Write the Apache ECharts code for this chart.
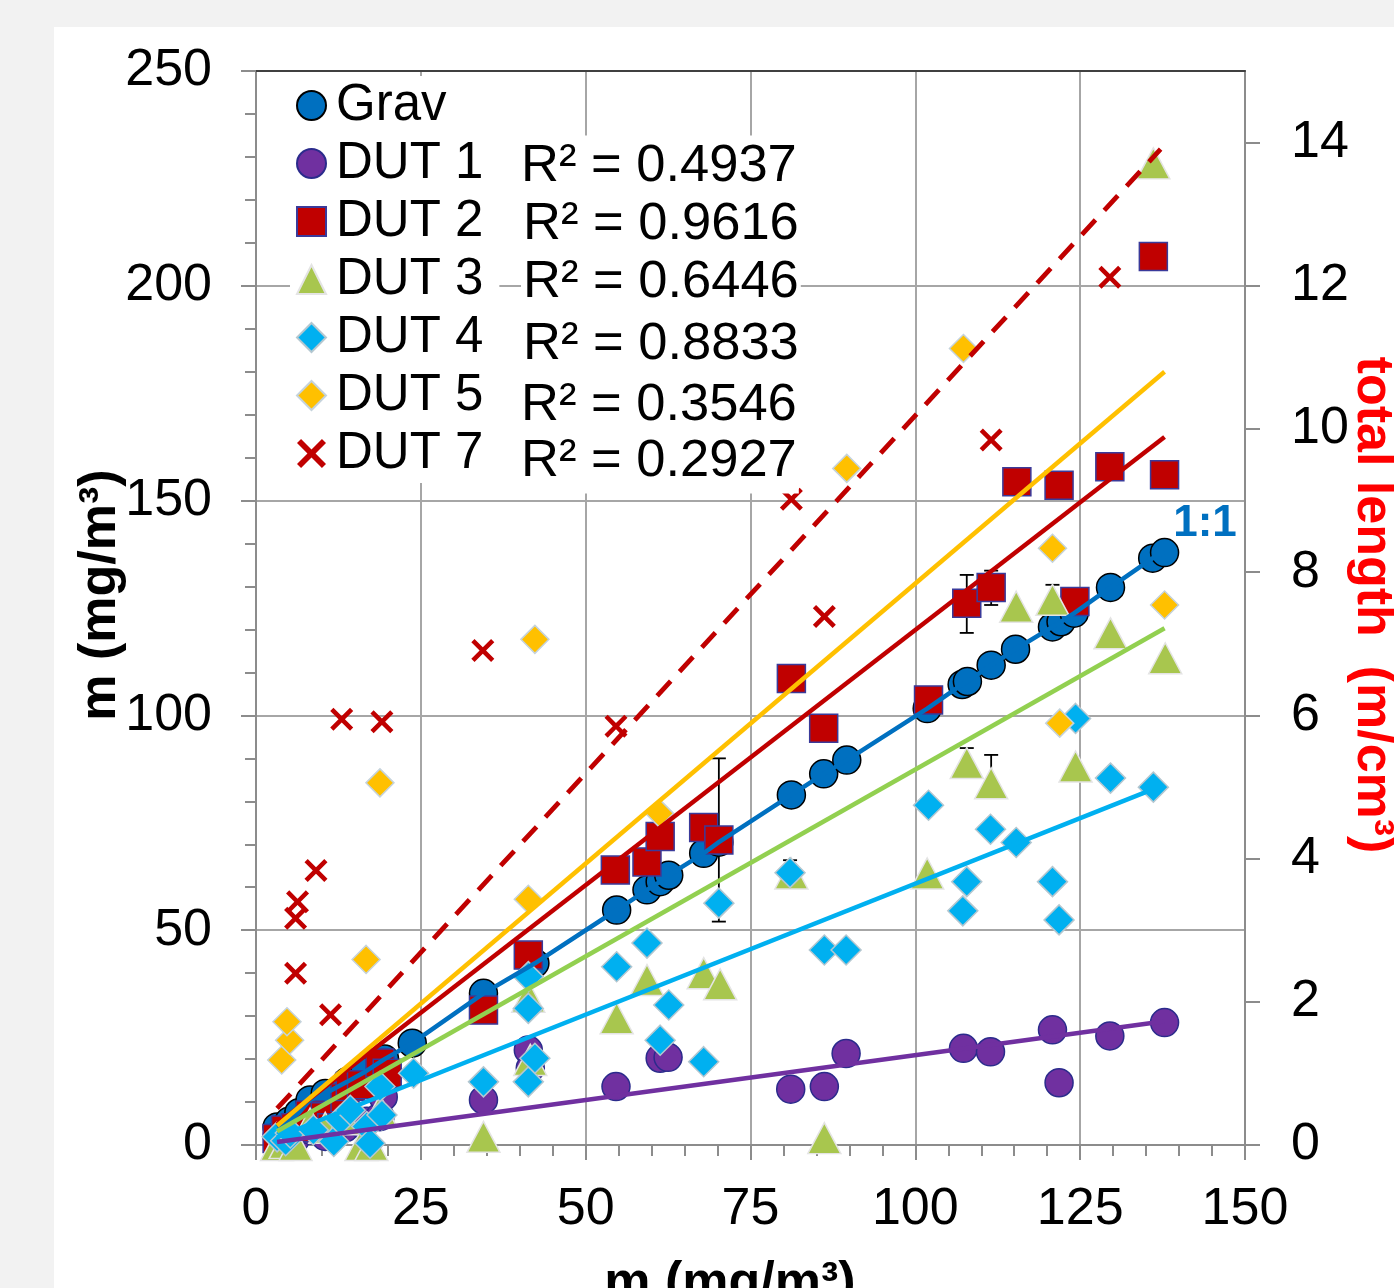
<!DOCTYPE html>
<html><head><meta charset="utf-8">
<script src="https://cdn.jsdelivr.net/npm/echarts@6/dist/echarts.min.js"></script>
<style>
html,body{margin:0;padding:0;background:#f2f2f2;}
#wrap{position:relative;width:1394px;height:1288px;overflow:hidden;}
#bg{position:absolute;left:54px;top:27px;right:0;bottom:0;background:#fff;}
#chart{position:absolute;left:0;top:0;width:1394px;height:1288px;}
</style></head><body>
<div id="wrap"><div id="bg"></div><div id="chart"></div></div>
<script>
// ---------- data ----------
const xTickLabels = [0, 25, 50, 75, 100, 125, 150];
const yTickLabels = [0, 50, 100, 150, 200, 250];
const rightTicks = [0, 2, 4, 6, 8, 10, 12, 14];
const seriesNames = ['Grav', 'DUT 1', 'DUT 2', 'DUT 3', 'DUT 4', 'DUT 5', 'DUT 7'];
const r2Labels = ['R\u00b2 = 0.4937', 'R\u00b2 = 0.9616', 'R\u00b2 = 0.6446', 'R\u00b2 = 0.8833', 'R\u00b2 = 0.3546', 'R\u00b2 = 0.2927'];

const grav = [[3.2,4.2],[5,5.5],[6.5,7.5],[8.2,10.5],[10.5,12],[13.8,14.7],[16.5,17],[19.5,20],[23.7,23.7],[34.5,35.3],[42.3,42.3],[54.7,54.7],[59.3,59.4],[61.3,61.3],[62.6,62.8],[67.9,67.9],[70.2,70.5],[81.2,81.5],[86.1,86.4],[89.6,89.6],[101.8,101.6],[107.1,107.2],[107.9,107.9],[111.5,111.7],[115.2,115.4],[120.8,120.6],[122.1,121.8],[124.1,123.8],[129.6,129.8],[136.0,136.6],[137.8,137.9]];
const dut1 = [[3.2,2],[4.5,2.8],[6,1.5],[8.2,3.5],[10.5,2],[13.5,4],[16,5],[16.8,5.5],[18.8,6.6],[19.3,11.2],[34.5,10.5],[41.3,22.1],[41.6,17.9],[54.6,13.6],[61.3,20.2],[62.5,20.4],[81.1,13],[86.2,13.6],[89.5,21.3],[107.3,22.5],[111.4,21.7],[120.8,26.8],[121.8,14.5],[129.5,25.4],[137.8,28.5]];
const dut2 = [[3.2,1.5],[4.5,3.5],[6,4],[8.2,7],[10.5,6.6],[11.5,4],[13.5,11],[14.3,13.6],[16,14],[18.8,19.1],[19.9,16.7],[34.5,31.4],[41.3,44.2],[54.5,64],[59.3,65.9],[61.3,71.8],[67.9,73.9],[70.2,71],[81.2,108.6],[86.1,97],[102,103.6],[107.8,126.1],[111.5,129.8],[115.4,154.4],[121.8,153.6],[124.2,126.5],[129.5,157.9],[136.1,206.8],[137.8,156]];
const dut3 = [[3.2,0],[4.5,0.5],[6,0],[8.2,5],[10.5,4],[13.5,6],[16,0],[17.5,0],[18.8,8],[34.5,1.9],[41.3,34.5],[41.6,19.8],[54.7,29.5],[59.3,38.4],[67.9,40],[70.4,37.4],[81.2,63.2],[86.2,1.6],[101.8,63.2],[107.8,88.9],[111.5,84.2],[115.3,125.3],[120.8,126.9],[124.3,88.1],[129.6,119.1],[136.1,228.5],[137.9,113.3]];
const dut4 = [[3.2,1.9],[4.5,1],[5.2,2.8],[8.7,3.5],[11.8,0.8],[12.8,5.8],[14.3,8.1],[16.8,4.3],[17.3,0.4],[18.8,13.6],[19.1,7],[23.9,16.7],[34.5,14.7],[41.3,39.2],[41.3,31.8],[42.3,20.2],[41.3,14.7],[54.7,41.5],[59.3,47],[61.3,24.4],[62.6,32.6],[67.9,19.4],[70.2,56.3],[81,63.4],[86.2,45.4],[89.5,45.4],[102,79.1],[107.2,54.5],[107.8,61.3],[111.4,73.5],[115.3,70.4],[120.8,61.3],[121.8,52.4],[124.3,99.3],[129.6,85.4],[136.1,83.3]];
const dut5 = [[3.9,19.8],[5.1,24.4],[4.7,28.7],[16.7,43.2],[18.8,84.3],[41.3,57.2],[42.3,117.7],[61.2,77.2],[89.6,157.5],[107.3,185.4],[120.8,138.9],[121.9,98.2],[137.8,125.7]];
const dut7 = [[6,40],[6,52.8],[6.3,56.6],[9.1,63.9],[11.3,30.3],[13,99.1],[19.1,98.5],[34.4,115.1],[54.6,97.5],[81.2,150.3],[86.2,123],[111.5,164.1],[129.5,202]];

// trend lines (end points)
const trend1 = [[3.2,0.7],[137.8,28.8]];
const trend2 = [[3.2,4.9],[137.8,164.8]];
const trend3 = [[3.2,3.2],[137.8,120.3]];
const trend4 = [[3.2,1.8],[135.7,82.6]];
const trend5 = [[3.2,4.5],[137.8,180]];
const trend7 = [[3.2,8.5],[137.2,231.8]];

// error bars [x, low, high]
const errBars = [[70.2,52,90],[107.8,119.2,132.7],[111.5,125.7,133.7],[111.5,84.2,90.8],[107.8,88.9,92.4],[81,63.4,66.3],[120.8,126.9,130.4]];

// ---------- chart ----------
const FONT = '"Liberation Sans", Arial, sans-serif';
const xPath = 'path://M0,1.4L1.4,0L5,3.6L8.6,0L10,1.4L6.4,5L10,8.6L8.6,10L5,6.4L1.4,10L0,8.6L3.6,5Z';
const axisGray = '#8c8c8c';
const gridGray = '#a6a6a6';

const chart = echarts.init(document.getElementById('chart'), null, {renderer: 'canvas'});

function scatter(name, data, symbol, size, color, border, z) {
  return {
    name, type: 'scatter', data, symbol, symbolSize: size, z,
    itemStyle: {color, borderColor: border, borderWidth: 1.5, opacity: 1},
    silent: true, emphasis: {disabled: true}
  };
}
function trend(name, data, color, dashed) {
  return {
    name, type: 'line', data, showSymbol: false, symbol: 'none', z: 5,
    lineStyle: {color, width: dashed ? 4.8 : 4.5, type: dashed ? [20, 13] : 'solid'},
    silent: true, emphasis: {disabled: true}
  };
}

const r2Y = [167, 225, 283, 345, 406, 462];
const r2X = [519, 521, 521, 521, 519, 519];

const option = {
  animation: false,
  backgroundColor: 'transparent',
  textStyle: {fontFamily: FONT},
  grid: {left: 256, right: 149, top: 71, bottom: 143, containLabel: false},
  xAxis: [{
    type: 'value', min: 0, max: 150, interval: 25, position: 'bottom',
    axisLine: {show: true, onZero: false, lineStyle: {color: axisGray, width: 2}},
    axisTick: {show: true, length: 15, lineStyle: {color: axisGray, width: 2}},
    minorTick: {show: true, splitNumber: 5, length: 11, lineStyle: {color: axisGray, width: 2}},
    splitLine: {show: true, lineStyle: {color: gridGray, width: 2}},
    axisLabel: {fontSize: 52, color: '#000', margin: 39, fontFamily: FONT,
      formatter: v => xTickLabels.includes(v) ? String(v) : ''}
  }, {
    type: 'value', min: 0, max: 150, position: 'top',
    axisLine: {show: true, onZero: false, lineStyle: {color: '#404040', width: 2}},
    axisTick: {show: false}, axisLabel: {show: false}, splitLine: {show: false}
  }],
  yAxis: [{
    type: 'value', min: 0, max: 250, interval: 50, position: 'left',
    axisLine: {show: true, onZero: false, lineStyle: {color: axisGray, width: 2}},
    axisTick: {show: true, length: 15, lineStyle: {color: axisGray, width: 2}},
    minorTick: {show: true, splitNumber: 5, length: 11, lineStyle: {color: axisGray, width: 2}},
    splitLine: {show: true, lineStyle: {color: gridGray, width: 2}},
    axisLabel: {fontSize: 52, color: '#000', margin: 44, fontFamily: FONT,
      formatter: v => yTickLabels.includes(v) ? String(v) : ''}
  }, {
    type: 'value', min: 0, max: 15, position: 'right',
    axisLine: {show: true, onZero: false, lineStyle: {color: axisGray, width: 2}},
    axisTick: {show: true, length: 15, customValues: rightTicks, lineStyle: {color: axisGray, width: 2}},
    splitLine: {show: false},
    axisLabel: {fontSize: 52, color: '#000', margin: 46, fontFamily: FONT, customValues: rightTicks}
  }],
  legend: {
    data: [
      {name: 'Grav', icon: 'circle'},
      {name: 'DUT 1', icon: 'circle'},
      {name: 'DUT 2', icon: 'rect'},
      {name: 'DUT 3', icon: 'triangle'},
      {name: 'DUT 4', icon: 'diamond'},
      {name: 'DUT 5', icon: 'diamond'},
      {name: 'DUT 7', icon: xPath}
    ],
    orient: 'vertical', left: 290, top: 76, itemWidth: 29, itemHeight: 29, itemGap: 7,
    backgroundColor: '#fff', padding: [4, 16, 4, 6], selectedMode: false, z: 8,
    textStyle: {fontSize: 51, color: '#000', fontFamily: FONT, lineHeight: 50, padding: [0, 0, 0, 5]}
  },
  graphic: [
    ...r2Labels.map((t, i) => ({
      type: 'text', x: r2X[i], y: r2Y[i], z: 9, silent: true,
      style: {text: t, font: '52.5px ' + FONT, fill: '#000', textAlign: 'left', textVerticalAlign: 'middle',
        verticalAlign: 'middle', backgroundColor: '#fff', padding: [2, 2, 8, 2]}
    })),
    {type: 'text', x: 1205, y: 524, z: 9, silent: true,
      style: {text: '1:1', font: 'bold 44px ' + FONT, fill: '#0070c0', textAlign: 'center', verticalAlign: 'middle', textVerticalAlign: 'middle'}},
    {type: 'text', x: 730, y: 1284, z: 9, silent: true,
      style: {text: 'm (mg/m\u00b3)', font: 'bold 52px ' + FONT, fill: '#000', textAlign: 'center', verticalAlign: 'middle', textVerticalAlign: 'middle'}},
    {type: 'text', x: 101, y: 595, rotation: Math.PI / 2, z: 9, silent: true,
      style: {text: 'm (mg/m\u00b3)', font: 'bold 52px ' + FONT, fill: '#000', textAlign: 'center', verticalAlign: 'middle', textVerticalAlign: 'middle'}},
    {type: 'text', x: 1372, y: 605, rotation: -Math.PI / 2, z: 9, silent: true,
      style: {text: 'total length  (m/cm\u00b3)', font: 'bold 52px ' + FONT, fill: '#ff0000', textAlign: 'center', verticalAlign: 'middle', textVerticalAlign: 'middle'}}
  ],
  series: [
    {
      name: 'errbars', type: 'custom', data: errBars, z: 1, silent: true,
      encode: {x: 0, y: [1, 2]},
      renderItem: (params, api) => {
        const x = api.value(0), lo = api.value(1), hi = api.value(2);
        const p1 = api.coord([x, lo]), p2 = api.coord([x, hi]);
        const w = 7, st = {stroke: '#000', lineWidth: 1.8};
        return {type: 'group', children: [
          {type: 'line', shape: {x1: p1[0], y1: p1[1], x2: p2[0], y2: p2[1]}, style: st},
          {type: 'line', shape: {x1: p1[0] - w, y1: p1[1], x2: p1[0] + w, y2: p1[1]}, style: st},
          {type: 'line', shape: {x1: p2[0] - w, y1: p2[1], x2: p2[0] + w, y2: p2[1]}, style: st}
        ]};
      }
    },
    scatter('Grav', grav, 'circle', 28, '#0070c0', '#000000', 2),
    scatter('DUT 1', dut1, 'circle', 28, '#7030a0', '#2b2b8c', 2),
    scatter('DUT 2', dut2, 'rect', 28, '#c00000', '#3a3a9a', 2),
    scatter('DUT 3', dut3, 'triangle', [33, 31], '#a8c64e', '#e4e4e4', 2),
    scatter('DUT 4', dut4, 'diamond', [30, 30], '#00b0f0', '#b4c7d0', 2),
    scatter('DUT 5', dut5, 'diamond', [28, 28], '#ffc000', '#c5d3dc', 2),
    {
      name: 'DUT 7', type: 'scatter', data: dut7, symbol: xPath, symbolSize: 23, z: 2,
      itemStyle: {color: '#c00000', opacity: 1}, silent: true, emphasis: {disabled: true}
    },
    trend('Grav line', grav, '#0070c0', false),
    trend('DUT 1 trend', trend1, '#7030a0', false),
    trend('DUT 2 trend', trend2, '#c00000', false),
    trend('DUT 3 trend', trend3, '#92d050', false),
    trend('DUT 4 trend', trend4, '#00b0f0', false),
    trend('DUT 5 trend', trend5, '#ffc000', false),
    trend('DUT 7 trend', trend7, '#c00000', true)
  ]
};
chart.setOption(option);
</script>
</body></html>
